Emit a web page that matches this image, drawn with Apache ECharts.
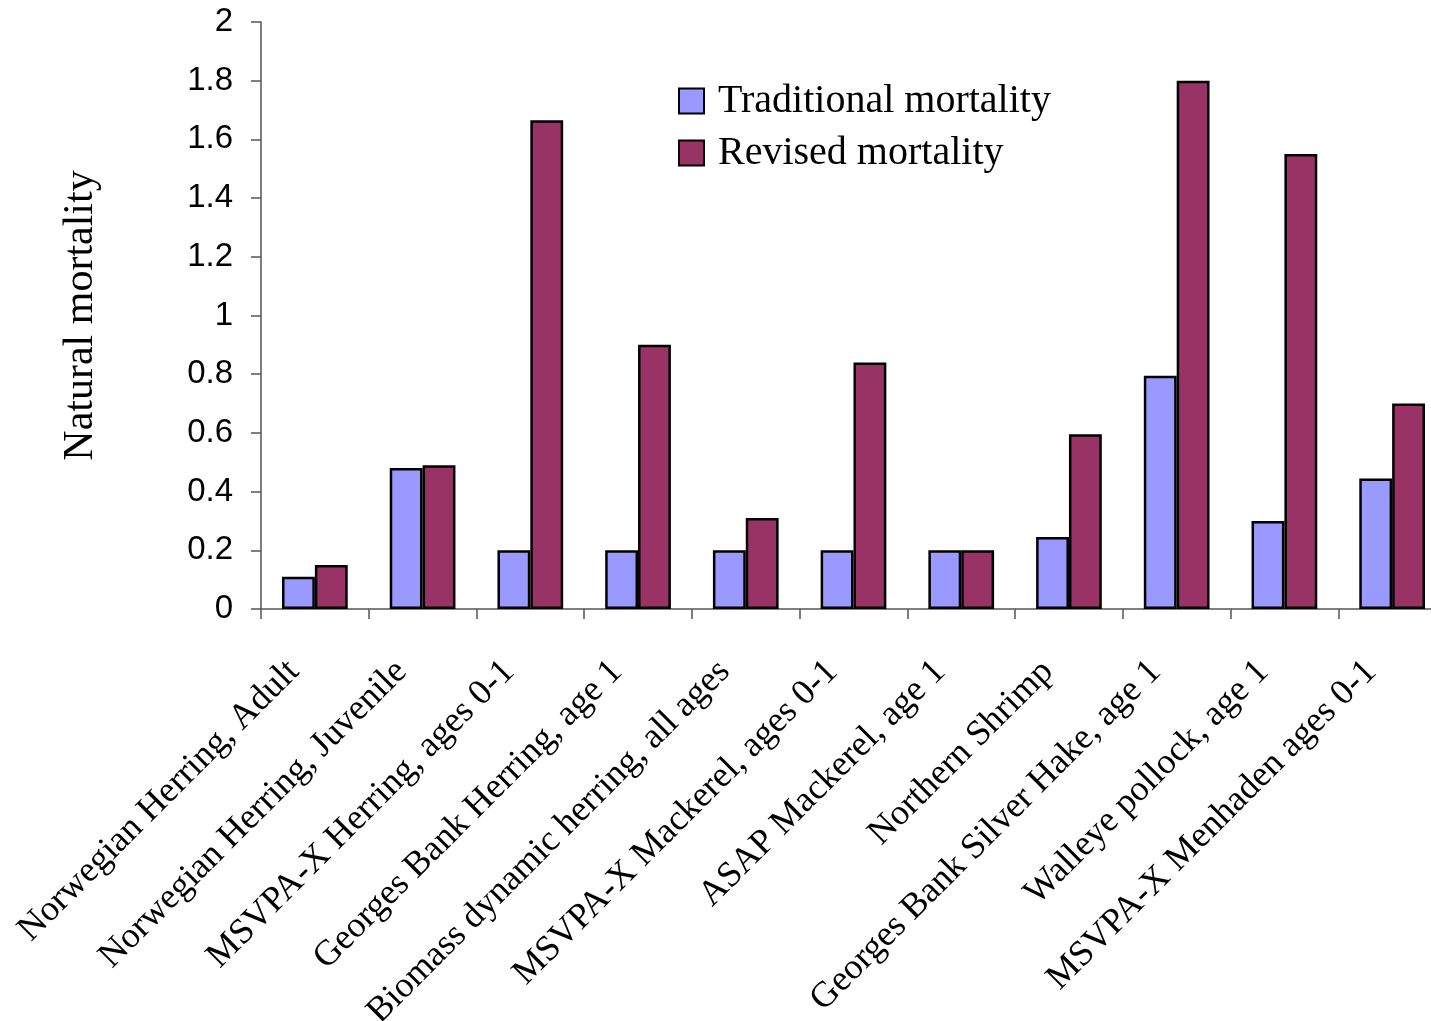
<!DOCTYPE html>
<html>
<head>
<meta charset="utf-8">
<script src="https://cdn.jsdelivr.net/npm/echarts@6/dist/echarts.min.js"></script>
<style>
html,body{margin:0;padding:0;background:#fff;}
#chart{width:1431px;height:1021px;}
</style>
</head>
<body>
<div id="chart"></div>
<script>
var categories = [
  "Norwegian Herring, Adult",
  "Norwegian Herring, Juvenile",
  "MSVPA-X Herring, ages 0-1",
  "Georges Bank Herring, age 1",
  "Biomass dynamic herring, all ages",
  "MSVPA-X Mackerel, ages 0-1",
  "ASAP Mackerel, age 1",
  "Northern Shrimp",
  "Georges Bank Silver Hake, age 1",
  "Walleye pollock, age 1",
  "MSVPA-X Menhaden ages 0-1"
];
var traditional = [0.11, 0.48, 0.2, 0.2, 0.2, 0.2, 0.2, 0.245, 0.795, 0.3, 0.445];
var revised = [0.15, 0.49, 1.665, 0.9, 0.31, 0.84, 0.2, 0.595, 1.8, 1.55, 0.7];
var seriesNames = ["Traditional mortality", "Revised mortality"];
var yMin = 0, yMax = 2, yInterval = 0.2;
var yAxisTitle = "Natural mortality";

var serif = "'Liberation Serif', 'DejaVu Serif', serif";
var sans = "'Liberation Sans', Arial, sans-serif";
var chart = echarts.init(document.getElementById('chart'));
chart.setOption({
  animation: false,
  backgroundColor: '#fff',
  legend: {
    orient: 'vertical',
    left: 673,
    top: 76,
    itemWidth: 25,
    itemHeight: 25,
    itemGap: 12,
    icon: 'rect',
    data: seriesNames,
    textStyle: {fontFamily: serif, fontSize: 40, color: '#000', lineHeight: 40, padding: [0, 0, 0, 9]},
    itemStyle: {borderColor: '#000', borderWidth: 2}
  },
  grid: {left: 261, right: -15, top: 22, bottom: 412, outerBoundsMode: 'none', containLabel: false},
  xAxis: {
    type: 'category',
    data: categories,
    axisLine: {lineStyle: {color: '#555', width: 1.5}},
    axisTick: {show: true, length: 10, inside: false, lineStyle: {color: '#555', width: 1.5}},
    axisLabel: {interval: 0, rotate: 45, margin: 36, padding: [0, 30, 0, 0], fontFamily: serif, fontSize: 36, color: '#000'},
    splitLine: {show: false}
  },
  yAxis: {
    type: 'value',
    min: yMin, max: yMax, interval: yInterval,
    name: yAxisTitle,
    nameLocation: 'middle',
    nameGap: 159,
    nameTextStyle: {fontFamily: serif, fontSize: 42, color: '#000'},
    axisLine: {show: true, lineStyle: {color: '#555', width: 1.5}},
    axisTick: {show: true, length: 10, inside: false, lineStyle: {color: '#555', width: 1.5}},
    axisLabel: {margin: 28, fontFamily: sans, fontSize: 33, color: '#000'},
    splitLine: {show: false}
  },
  series: [
    {
      name: seriesNames[0], type: 'bar', data: traditional,
      barGap: '0%', barCategoryGap: '39%',
      itemStyle: {color: '#9999FF', borderColor: '#000', borderWidth: 2.5}
    },
    {
      name: seriesNames[1], type: 'bar', data: revised,
      barGap: '0%', barCategoryGap: '39%',
      itemStyle: {color: '#993366', borderColor: '#000', borderWidth: 2.5}
    }
  ]
});
</script>
</body>
</html>
